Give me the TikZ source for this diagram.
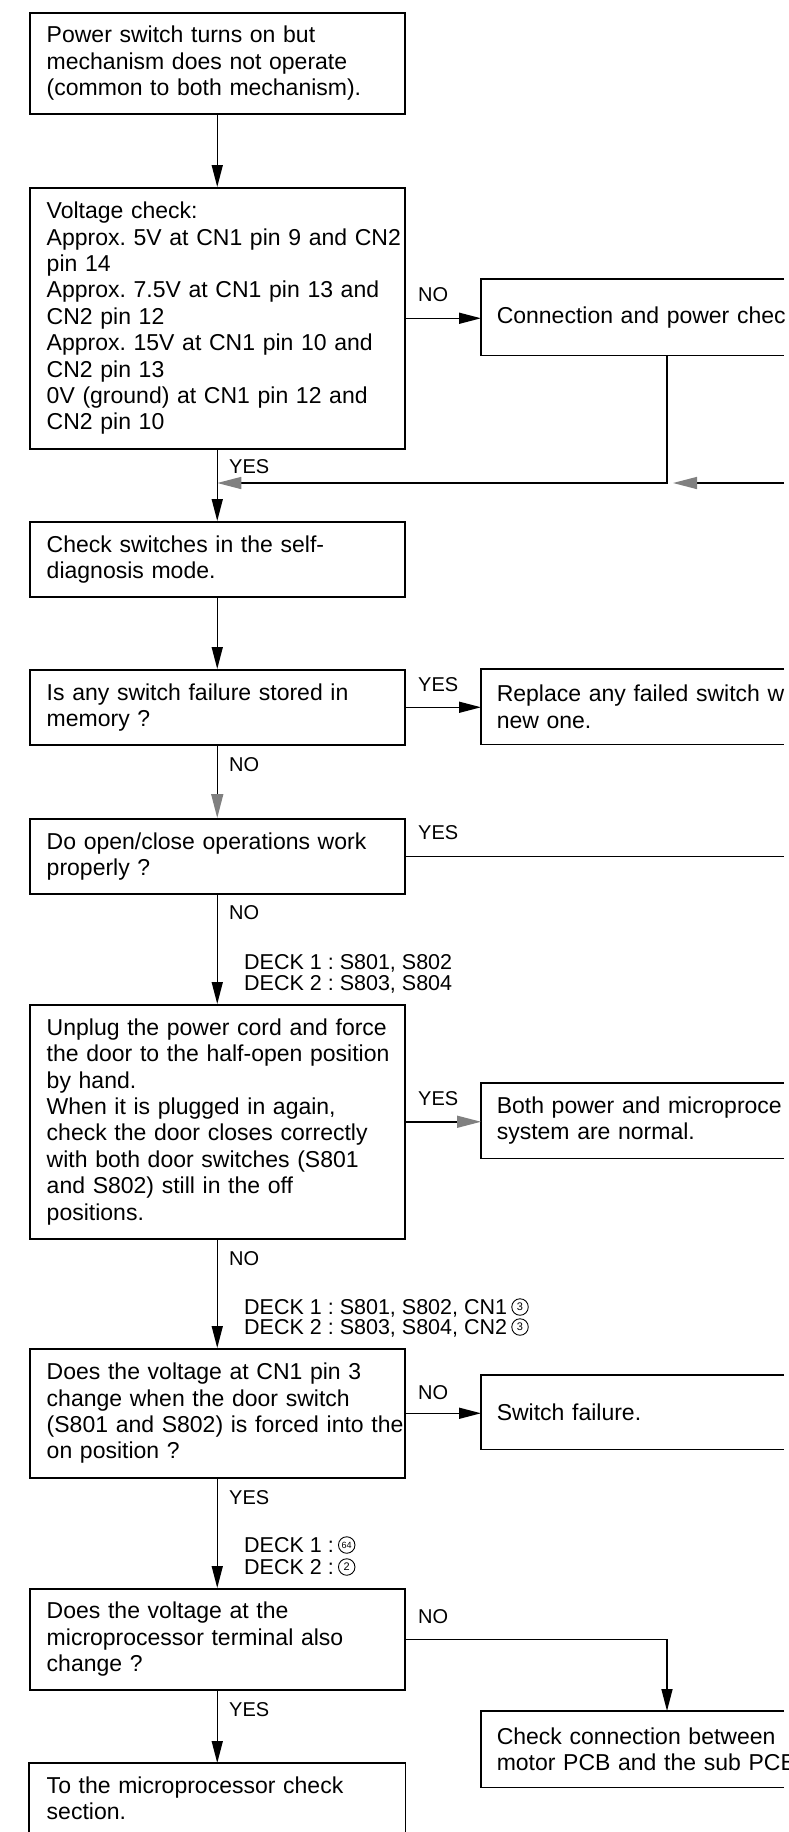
\documentclass[tikz,border=0pt]{standalone}
\usepackage{fontspec}
\setmainfont{Liberation Sans}
\usetikzlibrary{arrows.meta}
\frenchspacing
\newcommand{\boxfont}{\fontsize{23pt}{26.4pt}\selectfont\frenchspacing}
\newcommand{\lblfont}{\fontsize{20pt}{21pt}\selectfont}
\newcommand{\deckfont}{\fontsize{21.5pt}{21pt}\selectfont}
\begin{document}
\begin{tikzpicture}[x=1pt,y=-1pt,
  box/.style={draw, line width=1.5pt, text width=375pt, inner xsep=0pt, inner ysep=0pt,
    align=left, font=\boxfont, anchor=north west, execute at begin node={\leftskip=17pt}},
  rbox/.style={box, draw=none, text width=303pt, execute at begin node={\leftskip=15pt}},
  frame/.style={line width=1.5pt},
  conn/.style={line width=1.5pt, -{Triangle[length=22pt,width=11pt]}},
  gconn/.style={line width=1.5pt, -{Triangle[length=24pt,width=12pt,color=gray]}},
  lbl/.style={font=\lblfont, inner sep=0pt, anchor=west, text depth=0pt},
  deck/.style={font=\deckfont, inner sep=0pt, anchor=west, text depth=0pt},
  cnum/.style={circle, draw, line width=0.9pt, inner sep=0pt, minimum size=16.5pt,
    font=\fontsize{11pt}{11pt}\selectfont, anchor=west},
  cnumsmall/.style={cnum, font=\fontsize{9pt}{9pt}\selectfont}
]
\useasboundingbox (0,0) rectangle (788,1832);
\clip (0,0) rectangle (788,1832);
\coordinate (R) at (784,0);
\coordinate (J) at (667,483);
\coordinate (Rin) at (784,483);

% left column
\node[box, minimum height=101pt] (b1) at (29,12) {Power switch turns on but\\mechanism does not operate\\(common to both mechanism).};
\node[box, minimum height=261pt] (b2) at (29,187) {Voltage check:\\Approx. 5V at CN1 pin 9 and CN2\\pin 14\\Approx. 7.5V at CN1 pin 13 and\\CN2 pin 12\\Approx. 15V at CN1 pin 10 and\\CN2 pin 13\\0V (ground) at CN1 pin 12 and\\CN2 pin 10};
\node[box, minimum height=75pt] (b4) at (29,521) {Check switches in the self-\\diagnosis mode.};
\node[box, minimum height=75pt] (b5) at (29,669) {Is any switch failure stored in\\memory ?};
\node[box, minimum height=75pt] (b7) at (29,818) {Do open/close operations work\\properly ?};
\node[box, minimum height=234pt] (b8) at (29,1004) {Unplug the power cord and force\\the door to the half-open position\\by hand.\\When it is plugged in again,\\check the door closes correctly\\with both door switches (S801\\and S802) still in the off\\positions.};
\node[box, minimum height=129pt] (b10) at (29,1348) {Does the voltage at CN1 pin 3\\change when the door switch\\\mbox{(S801 and S802) is forced into the}\\on position ?};
\node[box, minimum height=101pt] (b12) at (29,1588) {Does the voltage at the\\microprocessor terminal also\\change ?};
\node[box, draw=none, minimum height=69pt] (b14) at (29,1763) {To the microprocessor check\\section.};
\draw[frame] (b14.south west) -- (b14.north west) -- (b14.north east) -- (b14.south east);

% right column
\node[rbox, minimum height=75pt] (b3) at (481,279) {\mbox{Connection and power chec}};
\node[rbox, minimum height=74pt] (b6) at (481,669) {\mbox{Replace any failed switch w}\\new one.};
\node[rbox, minimum height=74pt] (b9) at (481,1083) {\mbox{Both power and microproce}\\system are normal.};
\node[rbox, minimum height=73pt] (b11) at (481,1375) {Switch failure.};
\node[rbox, minimum height=75pt] (b13) at (481,1711) {\mbox{Check connection between}\\\mbox{motor PCB and the sub PCB}};
\foreach \n in {b3,b6,b9,b11,b13}
  \draw[frame] (\n.north -| R) -- (\n.north west) -- (\n.south west) -- (\n.south -| R);

% connectors
\draw[conn] (b1.south) -- (b2.north);
\draw[conn] (b2.east) -- (b2.east -| b3.west);
\draw[gconn] (b3.south -| J) -- (J) -- (J -| b2.south);
\draw[gconn, shorten >=6pt] (Rin) -- (J);
\draw[conn] (b2.south) -- (b4.north);
\draw[conn] (b4.south) -- (b5.north);
\draw[conn] (b5.east) -- (b5.east -| b6.west);
\draw[gconn] (b5.south) -- (b7.north);
\draw[frame] (b7.east) -- (b7.east -| R);
\draw[conn] (b7.south) -- (b8.north);
\draw[gconn] (b8.east) -- (b8.east -| b9.west);
\draw[conn] (b8.south) -- (b10.north);
\draw[conn] (b10.east) -- (b10.east -| b11.west);
\draw[conn] (b10.south) -- (b12.north);
\draw[conn] (b12.east) -| (b13.north -| J);
\draw[conn] (b12.south) -- (b14.north);

% labels
\node[lbl] (l1) at (418,295) {NO};
\node[lbl] (l2) at (229,467) {YES};
\node[lbl] (l3) at (418,685) {YES};
\node[lbl] (l4) at (229,765) {NO};
\node[lbl] (l5) at (418,833) {YES};
\node[lbl] (l6) at (229,913) {NO};
\node[deck] (d1) at (244,962) {DECK 1 : S801, S802};
\node[deck] (d2) at (244,983) {DECK 2 : S803, S804};
\node[lbl] (l7) at (418,1099) {YES};
\node[lbl] (l8) at (229,1258) {NO};
\node[deck] (d3) at (244,1307) {DECK 1 : S801, S802, CN1};
\node[cnum] (c3) at ([xshift=4pt]d3.east) {3};
\node[deck] (d4) at (244,1327) {DECK 2 : S803, S804, CN2};
\node[cnum] (c4) at ([xshift=4pt]d4.east) {3};
\node[lbl] (l9) at (418,1392) {NO};
\node[lbl] (l10) at (229,1497) {YES};
\node[deck] (d5) at (244,1545) {DECK 1 :};
\node[cnumsmall] (c5) at ([xshift=4pt]d5.east) {64};
\node[deck] (d6) at (244,1567) {DECK 2 :};
\node[cnum] (c6) at ([xshift=4pt]d6.east) {2};
\node[lbl] (l11) at (418,1616) {NO};
\node[lbl] (l12) at (229,1709) {YES};
\end{tikzpicture}
\end{document}
